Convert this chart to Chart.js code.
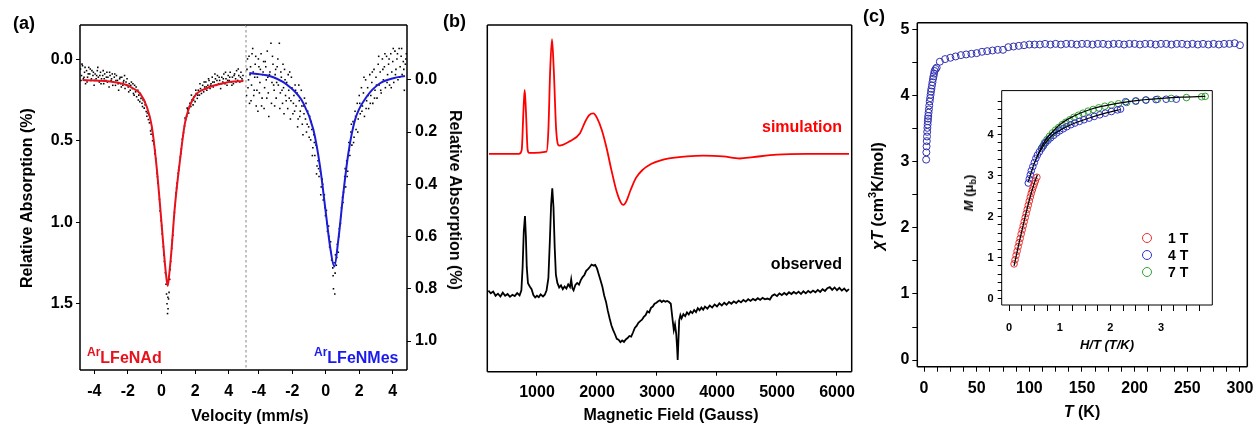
<!DOCTYPE html>
<html>

<head>
  <meta charset="utf-8">
  <title>Mössbauer, EPR and magnetic data</title>
  <script src="https://cdn.jsdelivr.net/npm/chart.js@4"></script>
  <style>
    body {
      margin: 0;
      background: #fff;
      font-family: "Liberation Sans", Arial, sans-serif;
    }

    #page {
      position: relative;
      width: 1256px;
      height: 425px;
      overflow: hidden;
    }

    canvas {
      position: absolute;
    }

    .txt {
      position: absolute;
      font-weight: bold;
      white-space: nowrap;
      line-height: 1;
      color: #000;
    }

    .mid {
      transform: translate(-50%, -50%);
    }

    .up {
      transform: translate(-50%, -50%) rotate(-90deg);
    }

    .down {
      transform: translate(-50%, -50%) rotate(90deg);
    }

    .sup {
      font-size: 12px;
      vertical-align: 7px;
    }

    .key {
      position: absolute;
      width: 8px;
      height: 8px;
      border-radius: 50%;
      border: 1.2px solid;
      transform: translate(-50%, -50%);
    }
  </style>
</head>

<body>
  <div id="page">
    <canvas id="moss-ad" width="256" height="425" style="left:0;top:0"></canvas>
    <canvas id="moss-mes" width="210" height="425" style="left:236px;top:0"></canvas>
    <canvas id="epr" width="445" height="425" style="left:420px;top:0"></canvas>
    <canvas id="chit" width="410" height="425" style="left:860px;top:0"></canvas>
    <canvas id="mag" width="260" height="260" style="left:960px;top:80px"></canvas>

    <div class="txt" style="left:13px;top:14px;font-size:18px">(a)</div>
    <div class="txt" style="left:443px;top:12px;font-size:18px">(b)</div>
    <div class="txt" style="left:863px;top:7px;font-size:18px">(c)</div>

    <div class="txt up" style="left:27px;top:198px;font-size:16px">Relative Absorption (%)</div>
    <div class="txt down" style="left:455px;top:200px;font-size:16px">Relative Absorption (%)</div>
    <div class="txt mid" style="left:250px;top:416px;font-size:16px">Velocity (mm/s)</div>
    <div class="txt" style="left:87px;top:346px;font-size:16px;color:#e8101a"><span class="sup">Ar</span>LFeNAd</div>
    <div class="txt" style="left:314px;top:346px;font-size:16px;color:#1a1aee"><span class="sup">Ar</span>LFeNMes</div>

    <div class="txt mid" style="left:671px;top:415px;font-size:16px">Magnetic Field (Gauss)</div>
    <div class="txt" style="right:414px;top:119px;font-size:16px;color:#ff0000">simulation</div>
    <div class="txt" style="right:414px;top:256px;font-size:16px">observed</div>

    <div class="txt up" style="left:876px;top:196px;font-size:16px"><i>χT</i> (cm<span style="font-size:11px;vertical-align:7px">3</span>K/mol)</div>
    <div class="txt mid" style="left:1082px;top:412px;font-size:16px"><i>T</i> (K)</div>
    <div class="txt up" style="left:970px;top:193px;font-size:13px"><i>M</i> (μ<span style="font-size:9px;vertical-align:-3px">b</span>)</div>
    <div class="txt mid" style="left:1107px;top:344px;font-size:13px;font-style:italic">H/T (T/K)</div>

    <div class="key" style="left:1147px;top:238px;border-color:#e83030"></div>
    <div class="key" style="left:1147px;top:255px;border-color:#3030c8"></div>
    <div class="key" style="left:1147px;top:272px;border-color:#30a030"></div>
    <div class="txt" style="left:1168px;top:231px;font-size:14px">1 T</div>
    <div class="txt" style="left:1168px;top:248px;font-size:14px">4 T</div>
    <div class="txt" style="left:1168px;top:265px;font-size:14px">7 T</div>
  </div>

  <script>
    // ---- (a) Mössbauer: velocity (mm/s), relative absorption (%) ----
    const adPoints = [
      [-4.82, 0.06], [-4.76, 0.10], [-4.70, 0.04], [-4.65, 0.12], [-4.58, 0.08], [-4.52, 0.15], [-4.46, 0.07], [-4.40, 0.11],
      [-4.33, 0.05], [-4.27, 0.09], [-4.20, 0.13], [-4.14, 0.07], [-4.08, 0.10], [-4.01, 0.16], [-3.95, 0.09], [-3.89, 0.12],
      [-3.82, 0.07], [-3.76, 0.11], [-3.70, 0.14], [-3.63, 0.08], [-3.57, 0.12], [-3.50, 0.10], [-3.44, 0.15], [-3.38, 0.09],
      [-3.31, 0.13], [-3.25, 0.08], [-3.19, 0.11], [-3.12, 0.17], [-3.06, 0.10], [-3.00, 0.13], [-2.93, 0.09], [-2.87, 0.14],
      [-2.81, 0.11], [-2.74, 0.16], [-2.68, 0.10], [-2.62, 0.13], [-2.55, 0.19], [-2.49, 0.12], [-2.43, 0.15], [-2.36, 0.11],
      [-2.30, 0.16], [-2.24, 0.13], [-2.17, 0.18], [-2.11, 0.14], [-2.05, 0.12], [-1.98, 0.17], [-1.92, 0.15], [-1.86, 0.19],
      [-1.79, 0.14], [-1.73, 0.18], [-1.67, 0.21], [-1.60, 0.16], [-1.54, 0.20], [-1.48, 0.23], [-1.41, 0.19], [-1.35, 0.22],
      [-1.29, 0.26], [-1.22, 0.24], [-1.16, 0.27], [-1.10, 0.25], [-1.03, 0.30], [-0.97, 0.28], [-0.91, 0.32], [-0.84, 0.33],
      [-0.78, 0.37], [-0.72, 0.39], [-0.65, 0.44], [-0.59, 0.43], [-0.53, 0.50], [-0.46, 0.52], [-0.40, 0.58], [-0.34, 0.61],
      [-0.27, 0.70], [-0.21, 0.76], [-0.15, 0.82], [-0.08, 0.93], [-0.02, 0.99], [0.04, 1.07], [0.11, 1.15], [0.17, 1.24],
      [0.23, 1.31], [0.30, 1.44], [0.33, 1.50], [0.36, 1.56], [0.39, 1.53], [0.42, 1.47], [0.45, 1.43], [0.49, 1.35],
      [0.55, 1.24], [0.61, 1.16], [0.68, 1.08], [0.74, 0.97], [0.80, 0.90], [0.86, 0.82], [0.93, 0.76], [0.99, 0.70],
      [1.05, 0.66], [1.12, 0.60], [1.18, 0.55], [1.24, 0.49], [1.31, 0.45], [1.37, 0.41], [1.43, 0.37], [1.50, 0.35],
      [1.56, 0.31], [1.62, 0.33], [1.69, 0.27], [1.75, 0.29], [1.81, 0.25], [1.88, 0.28], [1.94, 0.23], [2.00, 0.26],
      [2.07, 0.21], [2.13, 0.24], [2.19, 0.19], [2.26, 0.22], [2.32, 0.18], [2.38, 0.21], [2.45, 0.16], [2.51, 0.20],
      [2.57, 0.17], [2.64, 0.14], [2.70, 0.19], [2.76, 0.16], [2.83, 0.13], [2.89, 0.18], [2.95, 0.15], [3.02, 0.11],
      [3.08, 0.17], [3.14, 0.14], [3.21, 0.12], [3.27, 0.16], [3.33, 0.10], [3.40, 0.15], [3.46, 0.13], [3.52, 0.18],
      [3.59, 0.11], [3.65, 0.14], [3.71, 0.09], [3.78, 0.15], [3.84, 0.12], [3.90, 0.16], [3.97, 0.10], [4.03, 0.13],
      [4.09, 0.08], [4.16, 0.14], [4.22, 0.11], [4.28, 0.15], [4.35, 0.09], [4.41, 0.12], [4.47, 0.07], [4.54, 0.13],
      [4.60, 0.10], [4.66, 0.14], [4.73, 0.08], [4.79, 0.12], [4.85, 0.10],
      [-4.79, 0.13], [-4.73, 0.03], [-4.61, 0.11], [-4.55, 0.05], [-4.43, 0.14], [-4.36, 0.09], [-4.24, 0.06], [-4.17, 0.12],
      [-4.05, 0.08], [-3.98, 0.13], [-3.86, 0.10], [-3.79, 0.05], [-3.67, 0.10], [-3.60, 0.15], [-3.47, 0.07], [-3.41, 0.12],
      [-3.28, 0.11], [-3.22, 0.14], [-3.09, 0.08], [-2.97, 0.12], [-2.90, 0.16], [-2.78, 0.09], [-2.71, 0.13], [-2.58, 0.15],
      [-2.46, 0.11], [-2.39, 0.17], [-2.27, 0.14], [-2.20, 0.10], [-2.08, 0.16], [-1.95, 0.20], [-1.83, 0.16], [-1.70, 0.15],
      [-1.63, 0.22], [-1.51, 0.17], [-1.38, 0.25], [-1.26, 0.21], [-1.13, 0.29], [-1.00, 0.26], [-0.87, 0.35], [-0.75, 0.34],
      [-0.62, 0.46], [-0.49, 0.47], [-0.37, 0.56], [-0.24, 0.72], [-0.12, 0.86], [0.01, 1.02], [0.14, 1.20], [0.27, 1.38],
      [0.38, 1.46], [0.52, 1.29], [0.64, 1.11], [0.77, 0.94], [0.90, 0.79], [1.02, 0.68], [1.15, 0.58], [1.27, 0.47],
      [1.40, 0.36], [1.53, 0.30], [1.66, 0.29], [1.78, 0.22], [1.91, 0.25], [2.04, 0.19], [2.16, 0.22], [2.29, 0.15],
      [2.42, 0.19], [2.54, 0.14], [2.67, 0.17], [2.80, 0.12], [2.92, 0.16], [3.05, 0.14], [3.18, 0.09], [3.30, 0.13],
      [3.43, 0.11], [3.56, 0.15], [3.68, 0.12], [3.81, 0.08], [3.94, 0.13], [4.06, 0.11], [4.19, 0.16], [4.32, 0.10],
      [4.44, 0.14], [4.57, 0.06], [4.70, 0.11], [4.82, 0.13]
    ];
    const adFit = [
      [-4.70, 0.127], [-4.0, 0.131], [-3.07, 0.137], [-2.5, 0.146], [-2.07, 0.158], [-1.7, 0.178], [-1.28, 0.209],
      [-0.88, 0.29], [-0.58, 0.41], [-0.29, 0.66], [-0.05, 0.94], [0.15, 1.19], [0.28, 1.33], [0.37, 1.39], [0.46, 1.32],
      [0.58, 1.19], [0.80, 0.90], [1.10, 0.62], [1.40, 0.39], [1.89, 0.24], [2.69, 0.178], [3.88, 0.143], [4.87, 0.133]
    ];
    const mesPoints = [
      [-4.70, -0.04], [-4.64, 0.03], [-4.58, -0.09], [-4.52, -0.02], [-4.46, 0.08], [-4.40, -0.10], [-4.33, -0.03], [-4.27, 0.04],
      [-4.21, -0.06], [-4.15, 0.10], [-4.08, -0.01], [-4.02, -0.08], [-3.96, 0.05], [-3.90, -0.04], [-3.83, 0.10], [-3.77, -0.02],
      [-3.71, -0.07], [-3.65, 0.03], [-3.58, -0.05], [-3.52, 0.07], [-3.46, -0.01], [-3.40, 0.14], [-3.33, -0.03], [-3.27, -0.14],
      [-3.21, 0.01], [-3.15, -0.06], [-3.08, 0.04], [-3.02, -0.02], [-2.96, 0.07], [-2.90, -0.05], [-2.83, 0.02], [-2.77, -0.14],
      [-2.71, 0.05], [-2.65, -0.01], [-2.58, 0.09], [-2.52, 0.03], [-2.46, -0.04], [-2.40, 0.06], [-2.33, 0.01], [-2.27, 0.11],
      [-2.21, 0.04], [-2.15, -0.03], [-2.08, 0.08], [-2.02, 0.03], [-1.96, 0.13], [-1.90, 0.06], [-1.83, 0.02], [-1.77, 0.10],
      [-1.71, 0.05], [-1.65, 0.15], [-1.58, 0.08], [-1.52, 0.12], [-1.46, 0.04], [-1.40, 0.17], [-1.33, 0.10], [-1.27, 0.07],
      [-1.21, 0.15], [-1.15, 0.20], [-1.08, 0.12], [-1.02, 0.18], [-0.96, 0.14], [-0.90, 0.23], [-0.83, 0.19], [-0.77, 0.26],
      [-0.71, 0.21], [-0.65, 0.29], [-0.58, 0.25], [-0.52, 0.33], [-0.46, 0.31], [-0.40, 0.37], [-0.33, 0.35], [-0.27, 0.41],
      [-0.21, 0.38], [-0.15, 0.46], [-0.08, 0.44], [-0.02, 0.52], [0.04, 0.50], [0.10, 0.58], [0.17, 0.56], [0.23, 0.64],
      [0.29, 0.62], [0.35, 0.69], [0.42, 0.72], [0.46, 0.80], [0.50, 0.70], [0.54, 0.82], [0.58, 0.67], [0.63, 0.71],
      [0.69, 0.63], [0.75, 0.66], [0.81, 0.57], [0.88, 0.55], [0.94, 0.49], [1.00, 0.45], [1.06, 0.43], [1.13, 0.37],
      [1.19, 0.41], [1.25, 0.31], [1.31, 0.35], [1.38, 0.24], [1.44, 0.29], [1.50, 0.20], [1.56, 0.25], [1.63, 0.16],
      [1.69, 0.22], [1.75, 0.12], [1.81, 0.19], [1.88, 0.09], [1.94, 0.15], [2.00, 0.06], [2.06, 0.13], [2.13, 0.03],
      [2.19, 0.10], [2.25, 0.05], [2.31, 0.14], [2.38, 0.00], [2.44, 0.08], [2.50, 0.03], [2.56, 0.11], [2.63, -0.02],
      [2.69, 0.06], [2.75, 0.01], [2.81, 0.09], [2.88, -0.04], [2.94, 0.04], [3.00, -0.01], [3.06, 0.07], [3.13, -0.06],
      [3.19, 0.02], [3.25, -0.03], [3.31, 0.05], [3.38, -0.08], [3.44, 0.00], [3.50, -0.05], [3.56, 0.03], [3.63, -0.09],
      [3.69, -0.02], [3.75, -0.06], [3.81, 0.02], [3.88, -0.10], [3.94, -0.03], [4.00, -0.07], [4.06, 0.01], [4.13, -0.11],
      [4.19, -0.04], [4.25, -0.08], [4.31, 0.00], [4.38, -0.12], [4.44, -0.05], [4.50, -0.09], [4.56, -0.02], [4.63, -0.07],
      [4.69, 0.04], [4.75, -0.06], [4.81, -0.10],
      [-4.73, 0.06], [-4.67, -0.08], [-4.61, 0.00], [-4.55, 0.09], [-4.49, -0.05], [-4.43, 0.02], [-4.36, -0.12], [-4.30, 0.06],
      [-4.24, -0.01], [-4.18, -0.09], [-4.11, 0.04], [-4.05, 0.12], [-3.99, -0.05], [-3.93, 0.01], [-3.86, -0.10], [-3.80, 0.07],
      [-3.74, -0.03], [-3.68, 0.11], [-3.61, -0.07], [-3.55, 0.00], [-3.49, -0.11], [-3.43, 0.05], [-3.36, -0.02], [-3.24, 0.09],
      [-3.18, -0.09], [-3.11, 0.02], [-3.05, 0.10], [-2.99, -0.04], [-2.93, 0.01], [-2.86, -0.08], [-2.74, 0.11], [-2.68, -0.03],
      [-2.61, 0.04], [-2.55, -0.06], [-2.49, 0.13], [-2.43, 0.00], [-2.36, 0.08], [-2.24, -0.02], [-2.18, 0.07], [-2.11, 0.15],
      [-2.05, -0.01], [-1.93, 0.09], [-1.86, 0.12], [-1.80, 0.04], [-1.68, 0.18], [-1.61, 0.02], [-1.55, 0.14], [-1.43, 0.10],
      [-1.36, 0.21], [-1.30, 0.13], [-1.18, 0.09], [-1.11, 0.17], [-0.99, 0.22], [-0.87, 0.16], [-0.80, 0.29], [-0.68, 0.24],
      [-0.55, 0.36], [-0.43, 0.34], [-0.30, 0.44], [-0.18, 0.40], [-0.05, 0.49], [0.07, 0.55], [0.20, 0.60], [0.32, 0.66],
      [0.44, 0.75], [0.56, 0.74], [0.66, 0.68], [0.78, 0.60], [0.91, 0.52], [1.03, 0.47], [1.16, 0.34], [1.28, 0.37],
      [1.41, 0.27], [1.53, 0.17], [1.66, 0.24], [1.78, 0.14], [1.91, 0.20], [2.03, 0.09], [2.16, 0.12], [2.28, -0.01],
      [2.41, 0.11], [2.53, 0.06], [2.66, 0.09], [2.78, -0.03], [2.91, 0.07], [3.03, 0.02], [3.16, -0.09], [3.28, 0.04],
      [3.41, -0.04], [3.53, -0.10], [3.66, 0.01], [3.78, -0.08], [3.91, 0.03], [4.03, -0.12], [4.16, -0.02], [4.28, -0.10],
      [4.41, -0.01], [4.53, -0.12], [4.66, -0.04], [4.78, -0.08]
    ];
    const mesFit = [
      [-4.56, -0.026], [-3.13, -0.010], [-2.13, 0.028], [-1.34, 0.089], [-0.74, 0.19], [-0.34, 0.332], [-0.04, 0.485],
      [0.26, 0.639], [0.51, 0.715], [0.75, 0.613], [1.05, 0.434], [1.35, 0.281], [1.75, 0.153], [2.45, 0.064],
      [3.24, 0.013], [4.04, -0.006], [4.73, -0.015]
    ];
    const velTicks = [-4, -2, 0, 2, 4];
    const adTicks = [0, 0.5, 1, 1.5];
    const mesTicks = [0, 0.2, 0.4, 0.6, 0.8, 1.0];

    // ---- (b) EPR: field (G), intensity (a.u.) ----
    const eprSim = [
      [200, 62.8], [700, 62.8], [745, 63.9], [775, 75.5], [795, 81.3], [815, 75.5], [845, 63.9], [870, 63.1],
      [1160, 63.5], [1190, 69.7], [1220, 87.0], [1250, 95.9], [1280, 87.0], [1320, 69.7], [1370, 65.2], [1550, 66.5],
      [1717, 68.8], [1800, 72.0], [1870, 74.0], [1939, 74.5], [2000, 73.2], [2080, 69.7], [2160, 64.5], [2240, 58.2],
      [2330, 51.8], [2400, 48.7], [2440, 48.1], [2490, 49.2], [2560, 52.4], [2650, 55.9], [2760, 58.2], [2900, 59.9],
      [3050, 60.9], [3200, 61.5], [3500, 62.1], [3772, 62.3], [4100, 62.1], [4380, 61.5], [4600, 61.9], [5000, 62.6],
      [5500, 62.8], [6200, 62.8]
    ];
    const eprObs = [
      [190, 23.4], [230, 22.6], [270, 23.1], [310, 21.9], [350, 22.5], [390, 21.7], [430, 22.8], [470, 21.9], [510, 22.4],
      [550, 21.6], [590, 22.2], [630, 21.8], [670, 22.7], [710, 22.0], [740, 23.5], [760, 30.0], [780, 40.5], [800, 44.9],
      [815, 39.0], [830, 30.0], [850, 25.5], [880, 24.6], [910, 23.8], [940, 22.1], [970, 21.4], [1000, 21.9], [1030, 21.5],
      [1060, 22.3], [1100, 21.7], [1130, 22.2], [1160, 23.5], [1190, 27.0], [1215, 38.0], [1235, 48.0], [1255, 52.9],
      [1275, 47.5], [1295, 36.0], [1315, 28.0], [1340, 25.6], [1370, 24.3], [1400, 24.9], [1430, 23.8], [1460, 24.6],
      [1490, 24.0], [1520, 25.2], [1550, 24.4], [1570, 26.6], [1590, 24.1], [1610, 23.5], [1640, 25.0], [1670, 25.6],
      [1700, 25.1], [1730, 26.4], [1760, 27.3], [1790, 27.9], [1820, 29.1], [1850, 29.6], [1880, 30.2], [1910, 30.9],
      [1940, 30.6], [1970, 30.8], [2000, 29.8], [2030, 28.0], [2060, 26.3], [2090, 24.5], [2120, 22.0], [2150, 20.2],
      [2180, 17.6], [2210, 15.4], [2240, 13.4], [2270, 12.0], [2300, 10.8], [2330, 9.5], [2360, 9.2], [2390, 8.5],
      [2420, 9.0], [2450, 8.6], [2480, 9.3], [2510, 9.7], [2540, 10.3], [2570, 10.1], [2600, 11.3], [2630, 12.6],
      [2660, 13.2], [2690, 14.1], [2720, 14.6], [2750, 15.0], [2780, 15.8], [2810, 16.3], [2840, 17.4], [2870, 17.1],
      [2900, 18.4], [2930, 18.8], [2960, 19.6], [2990, 19.9], [3020, 20.3], [3050, 20.6], [3080, 20.1], [3110, 20.5],
      [3140, 20.2], [3170, 20.4], [3200, 20.1], [3230, 19.6], [3260, 15.0], [3280, 12.0], [3300, 13.6], [3320, 11.0],
      [3335, 7.0], [3345, 3.4], [3355, 8.0], [3370, 14.8], [3390, 16.3], [3410, 15.4], [3440, 16.6], [3470, 16.0],
      [3500, 17.1], [3530, 16.5], [3560, 17.4], [3590, 16.9], [3620, 17.8], [3650, 17.2], [3680, 18.3], [3710, 17.7],
      [3740, 18.5], [3770, 17.9], [3800, 18.8], [3840, 18.2], [3880, 19.1], [3920, 18.5], [3960, 19.4], [4000, 18.8],
      [4040, 19.7], [4080, 19.1], [4120, 19.9], [4160, 19.3], [4200, 20.1], [4240, 19.6], [4280, 20.3], [4320, 19.8],
      [4360, 20.5], [4400, 20.0], [4440, 20.7], [4480, 20.2], [4520, 20.9], [4560, 20.4], [4600, 21.0], [4640, 20.6],
      [4680, 21.2], [4720, 20.7], [4760, 21.3], [4800, 20.9], [4840, 21.1], [4880, 20.8], [4920, 21.9], [4960, 22.3],
      [5000, 21.8], [5040, 22.6], [5080, 22.1], [5120, 22.7], [5160, 22.2], [5200, 22.9], [5240, 22.4], [5280, 23.0],
      [5320, 22.5], [5360, 23.1], [5400, 22.4], [5440, 23.2], [5480, 22.6], [5520, 23.3], [5560, 22.8], [5600, 23.4],
      [5640, 22.9], [5680, 23.6], [5720, 23.0], [5760, 23.8], [5800, 23.3], [5840, 24.1], [5880, 24.4], [5920, 23.6],
      [5960, 24.3], [6000, 23.5], [6040, 24.2], [6080, 23.4], [6120, 24.0], [6160, 23.2], [6200, 23.8]
    ];
    const fieldTicks = [1000, 2000, 3000, 4000, 5000, 6000];

    // ---- (c) chi*T vs T, inset M vs H/T ----
    const chiT = [
      [2.0, 3.03], [2.2, 3.14], [2.4, 3.23], [2.6, 3.31], [2.8, 3.38], [3.0, 3.45], [3.2, 3.51], [3.4, 3.56], [3.6, 3.61],
      [3.8, 3.65], [4.0, 3.69], [4.3, 3.74], [4.6, 3.79], [5.0, 3.85], [5.4, 3.91], [5.8, 3.96], [6.2, 4.01], [6.6, 4.06],
      [7.0, 4.10], [7.5, 4.15], [8.0, 4.20], [8.5, 4.25], [9.0, 4.29], [9.5, 4.33], [10, 4.37], [11, 4.40], [12, 4.42],
      [15, 4.51], [20, 4.55], [25, 4.57], [30, 4.59], [35, 4.61], [40, 4.62], [45, 4.63], [50, 4.64], [55, 4.66],
      [60, 4.67], [65, 4.68], [70, 4.69], [75, 4.69], [80, 4.73], [85, 4.74], [90, 4.75], [95, 4.76], [100, 4.77],
      [105, 4.77], [110, 4.77], [115, 4.78], [120, 4.77], [125, 4.78], [130, 4.77], [135, 4.78], [140, 4.78], [145, 4.77],
      [150, 4.78], [155, 4.78], [160, 4.77], [165, 4.78], [170, 4.78], [175, 4.77], [180, 4.78], [185, 4.78], [190, 4.77],
      [195, 4.78], [200, 4.78], [205, 4.77], [210, 4.78], [215, 4.78], [220, 4.77], [225, 4.78], [230, 4.78], [235, 4.77],
      [240, 4.78], [245, 4.78], [250, 4.77], [255, 4.78], [260, 4.77], [265, 4.78], [270, 4.77], [275, 4.78], [280, 4.77],
      [285, 4.78], [290, 4.78], [295, 4.79], [300, 4.76]
    ];
    const mag1T = [
      [0.10, 0.85], [0.12, 0.95], [0.14, 1.06], [0.16, 1.16], [0.18, 1.27], [0.20, 1.37], [0.22, 1.47], [0.24, 1.58],
      [0.26, 1.68], [0.28, 1.78], [0.30, 1.88], [0.32, 1.98], [0.34, 2.08], [0.36, 2.18], [0.38, 2.28], [0.40, 2.38],
      [0.42, 2.48], [0.44, 2.57], [0.46, 2.65], [0.48, 2.73], [0.50, 2.80], [0.52, 2.87], [0.55, 2.96]
    ];
    const mag4T = [
      [0.38, 2.82], [0.40, 2.92], [0.42, 3.02], [0.44, 3.12], [0.47, 3.22], [0.50, 3.32], [0.53, 3.42], [0.56, 3.50],
      [0.60, 3.58], [0.64, 3.66], [0.68, 3.73], [0.72, 3.80], [0.77, 3.86], [0.82, 3.92], [0.88, 3.98], [0.94, 4.04],
      [1.00, 4.09], [1.07, 4.14], [1.14, 4.19], [1.22, 4.24], [1.30, 4.28], [1.39, 4.32], [1.48, 4.36], [1.58, 4.40],
      [1.68, 4.44], [1.79, 4.48], [1.90, 4.52], [2.02, 4.56], [2.14, 4.60], [2.20, 4.62],
      [2.30, 4.80], [2.50, 4.82], [2.70, 4.84], [2.90, 4.85], [3.10, 4.86], [3.30, 4.86]
    ];
    const mag7T = [
      [0.66, 3.70], [0.70, 3.80], [0.75, 3.88], [0.80, 3.96], [0.86, 4.04], [0.92, 4.11], [0.98, 4.17], [1.05, 4.24],
      [1.12, 4.30], [1.20, 4.36], [1.28, 4.42], [1.37, 4.47], [1.46, 4.52], [1.56, 4.57], [1.66, 4.61], [1.77, 4.65],
      [1.89, 4.69], [2.02, 4.72], [2.16, 4.75], [2.32, 4.78], [2.50, 4.81], [2.70, 4.84], [2.93, 4.86], [3.20, 4.88],
      [3.50, 4.90], [3.80, 4.92], [3.87, 4.93]
    ];
    const fit1T = [[0.10, 0.80], [0.20, 1.37], [0.30, 1.90], [0.40, 2.40], [0.50, 2.82], [0.56, 3.02]];
    const fit4T = [[0.38, 2.85], [0.50, 3.30], [0.60, 3.57], [0.80, 3.92], [1.00, 4.10], [1.30, 4.28], [1.60, 4.41], [1.90, 4.52], [2.20, 4.61]];
    const fit7T = [
      [0.55, 3.45], [0.65, 3.72], [0.75, 3.92], [0.90, 4.12], [1.00, 4.24], [1.20, 4.40], [1.40, 4.52], [1.60, 4.61],
      [1.80, 4.68], [2.00, 4.73], [2.30, 4.79], [2.60, 4.84], [3.00, 4.88], [3.40, 4.91], [3.87, 4.93]
    ];
    const tempTicks = [0, 50, 100, 150, 200, 250, 300];
    const chiTicks = [0, 1, 2, 3, 4, 5];
    const htTicks = [0, 1, 2, 3];
    const magTicks = [0, 1, 2, 3, 4];

    Chart.defaults.font.family = '"Liberation Sans", Arial, sans-serif';
    Chart.defaults.color = '#000';
    Chart.defaults.animation = false;
    Chart.defaults.plugins.legend.display = false;
    Chart.defaults.plugins.tooltip.enabled = false;

    const pts = arr => arr.map(([x, y]) => ({ x, y }));

    // tick positions from lo to hi every step (labels are picked separately)
    function minor(lo, hi, step) {
      const t = [];
      for (let v = lo; v <= hi + 1e-9; v += step) t.push(+v.toFixed(4));
      return t;
    }

    function axis(o) {
      return {
        type: 'linear',
        position: o.position,
        display: o.display !== false,
        min: o.min,
        max: o.max,
        reverse: !!o.reverse,
        afterBuildTicks: s => { s.ticks = o.ticks.map(v => ({ value: v })); },
        afterFit: s => { if (s.isHorizontal()) s.height = o.size; else s.width = o.size; },
        grid: { drawOnChartArea: false, color: '#000', lineWidth: 1, tickLength: o.tick || 5 },
        border: { display: false },
        ticks: {
          autoSkip: false,
          maxRotation: 0,
          padding: o.pad || 4,
          font: { size: o.font || 16, weight: 'bold' },
          callback: v => (o.labels.some(l => Math.abs(l - v) < 1e-9) ? (o.fmt ? o.fmt(v) : String(v)) : '')
        }
      };
    }

    // box round the plot area; sides picked per chart
    const frame = {
      id: 'frame',
      afterDatasetsDraw(chart, args, o) {
        const { ctx, chartArea: a } = chart;
        ctx.save();
        ctx.strokeStyle = '#000';
        ctx.lineWidth = o.width || 1.5;
        ctx.beginPath();
        if (o.sides.includes('t')) { ctx.moveTo(a.left, a.top); ctx.lineTo(a.right, a.top); }
        if (o.sides.includes('b')) { ctx.moveTo(a.left, a.bottom); ctx.lineTo(a.right, a.bottom); }
        if (o.sides.includes('l')) { ctx.moveTo(a.left, a.top); ctx.lineTo(a.left, a.bottom); }
        if (o.sides.includes('r')) { ctx.moveTo(a.right, a.top); ctx.lineTo(a.right, a.bottom); }
        ctx.stroke();
        if (o.dashedRight) {
          ctx.strokeStyle = '#999';
          ctx.lineWidth = 1.2;
          ctx.setLineDash([2.5, 2.5]);
          ctx.beginPath();
          ctx.moveTo(a.right, a.top);
          ctx.lineTo(a.right, a.bottom);
          ctx.stroke();
        }
        ctx.restore();
      }
    };

    function fitLine(data, color, width) {
      return {
        data: pts(data), showLine: true, borderColor: color, borderWidth: width,
        pointRadius: 0, cubicInterpolationMode: 'monotone', order: 0
      };
    }

    function dots(data) {
      return {
        data: pts(data), pointStyle: 'rect', pointRadius: 1.1,
        backgroundColor: '#000', borderWidth: 0, order: 1
      };
    }

    function rings(data, color, r) {
      return {
        data: pts(data), pointRadius: r, borderColor: color, borderWidth: 1,
        backgroundColor: 'rgba(0,0,0,0)', order: 1
      };
    }

    // (a) left half
    new Chart(document.getElementById('moss-ad'), {
      type: 'scatter',
      data: { datasets: [fitLine(adFit, '#e8101a', 2), dots(adPoints)] },
      options: {
        responsive: false,
        layout: { padding: { top: 25, left: 0, right: 10, bottom: 0 } },
        scales: {
          x: axis({ position: 'bottom', min: -4.85, max: 5.03, ticks: velTicks, labels: velTicks, size: 55, tick: 4, pad: 8 }),
          y: axis({ position: 'left', min: -0.21, max: 1.906, reverse: true, ticks: adTicks, labels: adTicks,
                    fmt: v => v.toFixed(1), size: 80, tick: 4, pad: 3 })
        },
        plugins: { frame: { sides: 'tbl', dashedRight: true } }
      },
      plugins: [frame]
    });

    // (a) right half
    new Chart(document.getElementById('moss-mes'), {
      type: 'scatter',
      data: { datasets: [fitLine(mesFit, '#1c1cd6', 2), dots(mesPoints)] },
      options: {
        responsive: false,
        layout: { padding: { top: 25, left: 10, right: 0, bottom: 0 } },
        scales: {
          x: axis({ position: 'bottom', min: -4.76, max: 4.85, ticks: velTicks, labels: velTicks, size: 55, tick: 4, pad: 8 }),
          y: axis({ position: 'right', min: -0.21, max: 1.111, reverse: true, ticks: mesTicks, labels: mesTicks,
                    fmt: v => v.toFixed(1), size: 39, tick: 4, pad: 4 })
        },
        plugins: { frame: { sides: 'tbr' } }
      },
      plugins: [frame]
    });

    // (b) EPR
    new Chart(document.getElementById('epr'), {
      type: 'scatter',
      data: {
        datasets: [
          fitLine(eprSim, '#ff0000', 1.8),
          { data: pts(eprObs), showLine: true, borderColor: '#000', borderWidth: 1.8, pointRadius: 0, tension: 0 }
        ]
      },
      options: {
        responsive: false,
        layout: { padding: { top: 25, left: 67.3, right: 13.3, bottom: 0 } },
        scales: {
          x: axis({ position: 'bottom', min: 172, max: 6245, ticks: fieldTicks, labels: fieldTicks, size: 53.3, tick: 4, pad: 7 }),
          y: { type: 'linear', display: false, min: 0, max: 100 }
        },
        plugins: { frame: { sides: 'tblr' } }
      },
      plugins: [frame]
    });

    // (c) chi*T
    new Chart(document.getElementById('chit'), {
      type: 'scatter',
      data: { datasets: [rings(chiT, '#3030b0', 3.5)] },
      options: {
        responsive: false,
        layout: { padding: { top: 22.7, left: 0, right: 22.7, bottom: 0 } },
        scales: {
          x: axis({ position: 'bottom', min: -6.4, max: 307, ticks: minor(0, 300, 12.5), labels: tempTicks, size: 58.3, tick: 5, pad: 7 }),
          y: axis({ position: 'left', min: -0.1, max: 5.1, ticks: minor(0, 5, 0.5), labels: chiTicks, size: 57.3, tick: 5, pad: 3 })
        },
        plugins: { frame: { sides: 'tblr' } }
      },
      plugins: [frame]
    });

    // (c) inset: magnetisation
    new Chart(document.getElementById('mag'), {
      type: 'scatter',
      data: {
        datasets: [
          fitLine(fit1T, '#000', 1.2), fitLine(fit4T, '#000', 1.2), fitLine(fit7T, '#000', 1.2),
          rings(mag1T, '#e83030', 3.3), rings(mag4T, '#3030c8', 3.3), rings(mag7T, '#30a030', 3.3)
        ]
      },
      options: {
        responsive: false,
        layout: { padding: { top: 10, left: 0, right: 7.7, bottom: 0 } },
        scales: {
          x: axis({ position: 'bottom', min: -0.144, max: 4.01, ticks: minor(0, 3.75, 0.25), labels: htTicks, size: 35, tick: 6, pad: 10, font: 11 }),
          y: axis({ position: 'left', min: -0.15, max: 5.07, ticks: minor(0, 4.8, 0.2), labels: magTicks, size: 41.7, tick: 4, pad: 4, font: 11 })
        },
        plugins: { frame: { sides: 'tblr', width: 1 } }
      },
      plugins: [frame]
    });
  </script>
</body>

</html>
